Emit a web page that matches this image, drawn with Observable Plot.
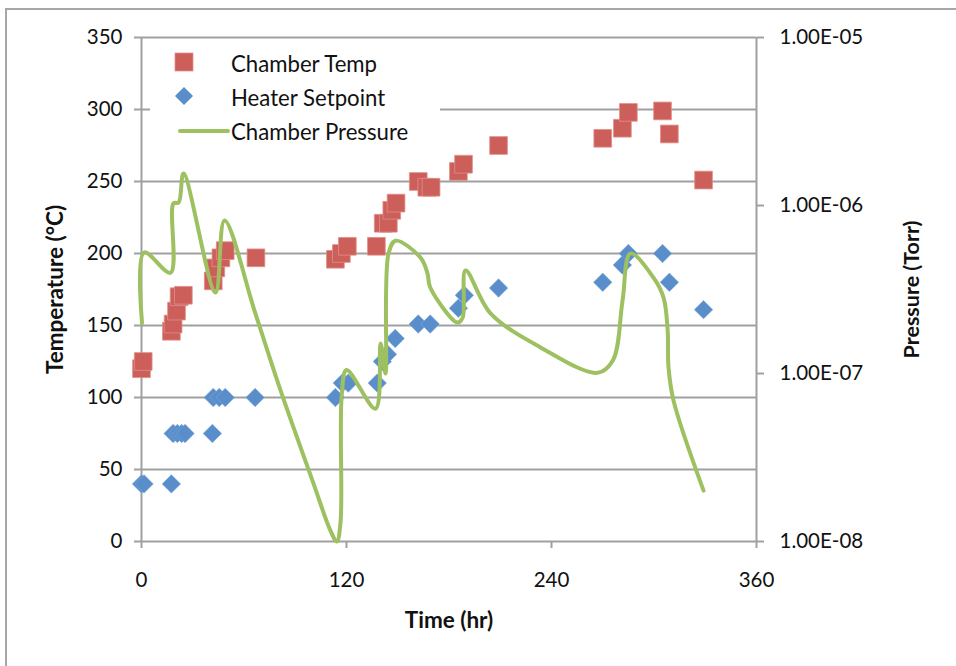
<!DOCTYPE html>
<html>
<head>
<meta charset="utf-8">
<script src="https://cdn.jsdelivr.net/npm/d3@7"></script>
<script src="https://cdn.jsdelivr.net/npm/@observablehq/plot@0.6"></script>
<style>
  html, body { margin: 0; padding: 0; background: #fff; }
  #wrap { position: relative; width: 956px; height: 666px; overflow: hidden; font-family: Lato, "Open Sans", sans-serif; }
  #frame { position: absolute; left: 5px; top: 8px; width: 960px; height: 700px; border-top: 2px solid #a6a6a6; border-left: 2px solid #a6a6a6; box-sizing: border-box; pointer-events: none; }
  #legend { position: absolute; left: 150px; top: 44px; width: 290px; height: 104px; background: #fff; }
  .lg-row { position: absolute; left: 0; height: 30px; display: flex; align-items: center; }
  .lg-row svg { position: absolute; left: 26px; }
  .lg-row span { position: absolute; left: 81px; white-space: nowrap; font-size: 22.2px; color: #111; }
</style>
</head>
<body>
<div id="wrap">
  <div id="chart"></div>
  <div id="legend"></div>
  <div id="frame"></div>
</div>
<script>
// ---- data ----
const tempTime = [0, 1, 17.5, 18.5, 20.5, 22, 24.5, 42, 43.5, 46.5, 49, 67, 113.5, 117, 120.5, 137.5, 141.5, 144.5, 146.5, 149, 162, 167, 169.5, 185.5, 188.5, 209, 270, 281.5, 285, 305, 309, 329];
const tempVals = [120, 125, 146, 151, 160, 170, 171, 181, 190, 197, 202, 197, 196, 200, 205, 205, 221, 221, 230, 235, 250, 246, 246, 257, 262, 275, 280, 287, 298, 299, 283, 251];

const heaterTime = [0, 1.5, 17.5, 18.5, 21, 23.5, 25.5, 41.5, 42, 45.5, 49, 66.5, 113.5, 117.5, 121, 138, 141, 144, 148.5, 162, 169, 185.5, 189, 209, 270, 281.5, 285, 305, 309, 329];
const heaterVals = [40, 40, 40, 75, 75, 75, 75, 75, 100, 100, 100, 100, 100, 110, 110, 110, 125, 130, 141, 151, 151, 162, 171, 176, 180, 192, 200, 200, 180, 161];

const pressTime = [0.3, 1.5, 17, 18.7, 21.7, 24.6, 43.3, 48.6, 66.7, 81.4, 100.7, 110.6, 114.3, 116.5, 117.2, 120, 137, 140, 142.8, 144.6, 148.7, 163.3, 167.4, 169, 185, 188, 189.7, 204.3, 233.6, 267, 276, 281.6, 286.2, 299.7, 305.6, 308, 308.5, 311.4, 329];
const pressVals = [2.0e-7, 5.25e-7, 3.98e-7, 1.03e-6, 1.04e-6, 1.55e-6, 3.03e-7, 8.15e-7, 2.27e-7, 7.93e-8, 2.21e-8, 1.16e-8, 1.0e-8, 1.3e-8, 7.4e-8, 1.05e-7, 6.17e-8, 1.51e-7, 1.0e-7, 5.18e-7, 6.17e-7, 4.9e-7, 3.94e-7, 3.25e-7, 2.01e-7, 2.15e-7, 4.1e-7, 2.28e-7, 1.43e-7, 1.01e-7, 1.2e-7, 2.72e-7, 5.18e-7, 3.72e-7, 2.83e-7, 1.8e-7, 1.09e-7, 6.92e-8, 2.01e-8];

const timeTicks = [0, 120, 240, 360];
const tempTicks = [0, 50, 100, 150, 200, 250, 300, 350];
const pressTicks = [1e-8, 1e-7, 1e-6, 1e-5];
const pressTickLabels = ["1.00E-08", "1.00E-07", "1.00E-06", "1.00E-05"];

const seriesNames = ["Chamber Temp", "Heater Setpoint", "Chamber Pressure"];
const colors = { temp: "#CD5F5A", heater: "#5A8ECB", press: "#9DC060" };

// secondary (log) axis mapped onto the temperature scale domain [0, 350]
const pMin = 1e-8, pMax = 1e-5, tMax = 350;
const toLeft = p => (Math.log10(p) - Math.log10(pMin)) / (Math.log10(pMax) - Math.log10(pMin)) * tMax;

const tempData = tempTime.map((t, i) => ({ t, v: tempVals[i] }));
const heaterData = heaterTime.map((t, i) => ({ t, v: heaterVals[i] }));
const pressData = pressTime.map((t, i) => ({ t, v: toLeft(pressVals[i]) }));
const pressTickPos = pressTicks.map(toLeft);

const grid = "#a0a0a0";

const chart = Plot.plot({
  width: 956,
  height: 666,
  marginLeft: 141,
  marginRight: 200,
  marginTop: 37,
  marginBottom: 125,
  style: { fontFamily: "Lato, 'Open Sans', sans-serif", fontSize: "20.5px", color: "#111", background: "transparent" },
  x: { domain: [0, 360] },
  y: { domain: [0, 350] },
  marks: [
    Plot.gridY(tempTicks, { stroke: grid, strokeOpacity: 1, strokeWidth: 2 }),
    Plot.ruleX([0, 360], { stroke: grid, strokeWidth: 2 }),
    Plot.axisY(tempTicks, { anchor: "left", tickSize: 7, tickPadding: 12, stroke: grid, strokeWidth: 2, fill: "#111", label: null, fontSize: 20.5 }),
    Plot.axisY(pressTickPos, { anchor: "right", tickSize: 7, tickPadding: 16, stroke: grid, strokeWidth: 2, fill: "#111", label: null, fontSize: 20.5,
      tickFormat: (d, i) => pressTickLabels[i] }),
    Plot.axisX(timeTicks, { anchor: "bottom", tickSize: 7, tickPadding: 24, stroke: grid, strokeWidth: 2, fill: "#111", label: null, fontSize: 20.5 }),
    Plot.text(["Temperature (°C)"], { frameAnchor: "left", textAnchor: "middle", dx: -86, rotate: -90, fontWeight: "bold", fontSize: 22.5, fill: "#111" }),
    Plot.text(["Pressure (Torr)"], { frameAnchor: "right", textAnchor: "middle", dx: 156, rotate: -90, fontWeight: "bold", fontSize: 21.5, fill: "#111" }),
    Plot.text(["Time (hr)"], { frameAnchor: "bottom", textAnchor: "middle", dy: 86, fontWeight: "bold", fontSize: 22.5, fill: "#111" }),
    Plot.dot(tempData, { x: "t", y: "v", symbol: "square", r: 10, fill: colors.temp, stroke: "#e0908c", strokeWidth: 0.8 }),
    Plot.dot(heaterData, { x: "t", y: "v", symbol: "diamond2", r: 8.3, fill: colors.heater, stroke: "#7aa6d8", strokeWidth: 0.6 }),
    Plot.line(pressData, { x: "t", y: "v", stroke: colors.press, strokeWidth: 4, curve: "catmull-rom" })
  ]
});
document.getElementById("chart").appendChild(chart);

// legend
const legend = document.getElementById("legend");
const rows = [
  { name: seriesNames[0], top: 4, svg: `<svg width="50" height="30" style="left:18px"><rect x="7" y="5" width="18" height="18" fill="${colors.temp}" stroke="#e0908c" stroke-width="0.8"/></svg>` },
  { name: seriesNames[1], top: 38, svg: `<svg width="50" height="30" style="left:18px"><path d="M16,5 L25,14 L16,23 L7,14 Z" fill="${colors.heater}"/></svg>` },
  { name: seriesNames[2], top: 72, svg: `<svg width="60" height="30" style="left:28px"><line x1="2" y1="15" x2="50" y2="15" stroke="${colors.press}" stroke-width="4" stroke-linecap="round"/></svg>` }
];
rows.forEach(r => {
  const div = document.createElement("div");
  div.className = "lg-row";
  div.style.top = r.top + "px";
  div.style.width = "290px";
  div.innerHTML = r.svg + `<span>${r.name}</span>`;
  legend.appendChild(div);
});
</script>
</body>
</html>
